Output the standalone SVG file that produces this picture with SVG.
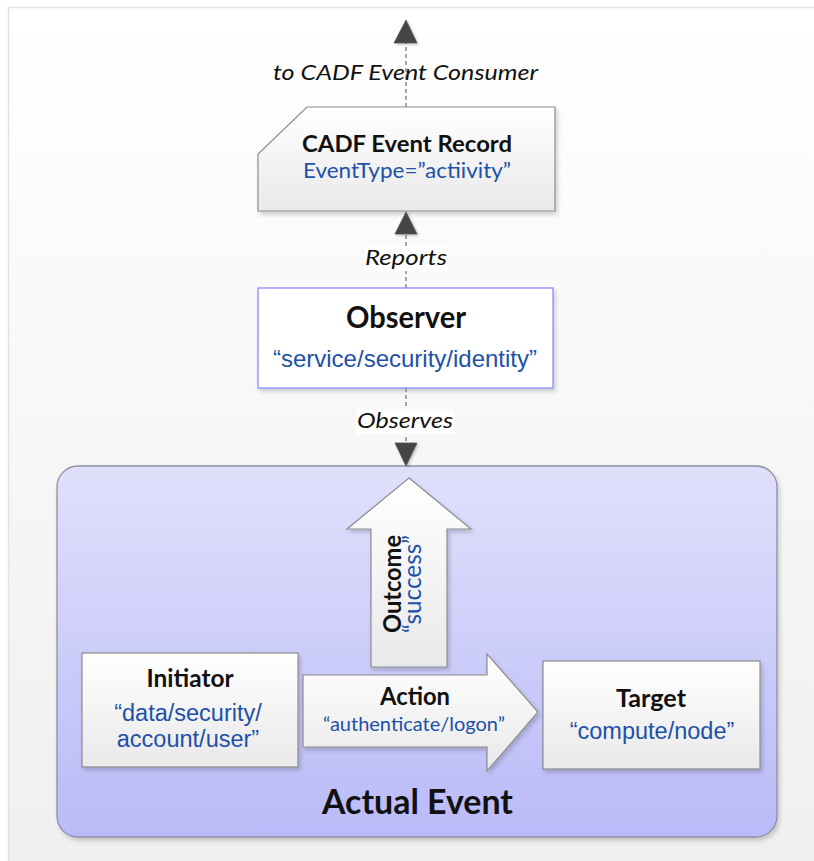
<svg xmlns="http://www.w3.org/2000/svg" width="814" height="861" viewBox="0 0 814 861">
<style>
.lbl{font-family:Lato,"Open Sans",sans-serif;fill:#111}
.b{font-weight:bold}
.it{font-style:italic}
.blue{fill:#2150a8}
.arial{font-family:"Liberation Sans",Arial,sans-serif}
.box{fill:url(#boxg);stroke:#8c8c8c;stroke-width:1.2;filter:url(#sh)}
.dash{stroke:#8a8a8a;stroke-width:1.5;stroke-dasharray:4 3;fill:none}
.head{fill:#444;stroke:#555;stroke-width:0.8;filter:url(#sh2)}
</style>
<defs>
<linearGradient id="bg" x1="0" y1="0" x2="0" y2="1"><stop offset="0" stop-color="#ffffff"/><stop offset="1" stop-color="#efefef"/></linearGradient>
<linearGradient id="boxg" x1="0" y1="0" x2="0" y2="1"><stop offset="0" stop-color="#ffffff"/><stop offset="1" stop-color="#e9e9e9"/></linearGradient>
<linearGradient id="cont" x1="0" y1="0" x2="0" y2="1"><stop offset="0" stop-color="#e0e0fc"/><stop offset="1" stop-color="#babaf8"/></linearGradient>
<filter id="sh" x="-10%" y="-10%" width="125%" height="130%"><feDropShadow dx="2" dy="3" stdDeviation="2" flood-color="#000" flood-opacity="0.18"/></filter>
<filter id="sh2" x="-30%" y="-30%" width="170%" height="170%"><feDropShadow dx="1.5" dy="1.5" stdDeviation="1" flood-color="#000" flood-opacity="0.2"/></filter>
</defs>
<rect x="8.5" y="7.5" width="820" height="870" fill="url(#bg)" stroke="#e2e2e2" stroke-width="1.5"/>

<g id="actual-event">
<rect x="57" y="466" width="720" height="371" rx="21" fill="url(#cont)" stroke="#8e8ea6" stroke-width="1.3" filter="url(#sh)"/>
<text class="lbl b" x="417.5" y="814" font-size="35" text-anchor="middle" textLength="191" lengthAdjust="spacingAndGlyphs">Actual Event</text>
</g>

<g id="outcome">
<polygon class="box" points="409,478 471,529 447,529 447,667 371,667 371,529 347,529"/>
<text class="lbl b" transform="translate(401,584) rotate(-90)" font-size="25" text-anchor="middle" textLength="98" lengthAdjust="spacingAndGlyphs">Outcome</text>
<text class="lbl blue" transform="translate(421,584) rotate(-90)" font-size="25" text-anchor="middle" textLength="98" lengthAdjust="spacingAndGlyphs">“success”</text>
</g>

<g id="initiator">
<rect class="box" x="82" y="653" width="216" height="114"/>
<text class="lbl b" x="190" y="687" font-size="25" text-anchor="middle" textLength="87" lengthAdjust="spacingAndGlyphs">Initiator</text>
<text class="arial blue" x="188" y="721" font-size="23.5" text-anchor="middle">“data/security/</text>
<text class="arial blue" x="188" y="747" font-size="23.5" text-anchor="middle">account/user”</text>
</g>

<g id="action">
<polygon class="box" points="303,675 487,675 487,654 538,712 487,771 487,747 303,747"/>
<text class="lbl b" x="415" y="705" font-size="24" text-anchor="middle" textLength="70" lengthAdjust="spacingAndGlyphs">Action</text>
<text class="lbl blue" x="414" y="731" font-size="19" text-anchor="middle" textLength="182" lengthAdjust="spacingAndGlyphs">“authenticate/logon”</text>
</g>

<g id="target">
<rect class="box" x="543" y="661" width="217" height="108"/>
<text class="lbl b" x="651" y="707" font-size="25" text-anchor="middle" textLength="70" lengthAdjust="spacingAndGlyphs">Target</text>
<text class="arial blue" x="652" y="739" font-size="23.5" text-anchor="middle">“compute/node”</text>
</g>

<g id="observer">
<rect x="258" y="288" width="295" height="100" fill="#ffffff" stroke="#8080ff" stroke-width="1.2" filter="url(#sh)"/>
<text class="lbl b" x="406" y="328" font-size="30" text-anchor="middle" textLength="120" lengthAdjust="spacingAndGlyphs">Observer</text>
<text class="arial blue" x="405" y="367" font-size="24" text-anchor="middle">“service/security/identity”</text>
</g>

<g id="cadf-record">
<polygon class="box" points="307,107 555,107 555,211 258,211 258,154"/>
<text class="lbl b" x="407" y="152" font-size="23" text-anchor="middle" textLength="210" lengthAdjust="spacingAndGlyphs">CADF Event Record</text>
<text class="lbl blue" x="407" y="178" font-size="22" text-anchor="middle" textLength="208" lengthAdjust="spacingAndGlyphs">EventType=”actiivity”</text>
</g>

<g id="connectors">
<line class="dash" x1="406" y1="107" x2="406" y2="43"/>
<polygon class="head" points="406,20 417,43 394,43"/>
<text class="lbl it" x="405.5" y="80" font-size="22" text-anchor="middle" textLength="265" lengthAdjust="spacingAndGlyphs">to CADF Event Consumer</text>
<line class="dash" x1="406" y1="288" x2="406" y2="234"/>
<polygon class="head" points="406,212 417,234 395,234"/>
<rect x="364" y="246" width="84" height="25" fill="#ffffff"/>
<text class="lbl it" x="406" y="265" font-size="22" text-anchor="middle" textLength="82" lengthAdjust="spacingAndGlyphs">Reports</text>
<line class="dash" x1="406" y1="388" x2="406" y2="443"/>
<polygon class="head" points="406,466 417,443 395,443"/>
<rect x="356" y="409" width="98" height="25" fill="#ffffff"/>
<text class="lbl it" x="405" y="428" font-size="22" text-anchor="middle" textLength="96" lengthAdjust="spacingAndGlyphs">Observes</text>
</g>
</svg>
